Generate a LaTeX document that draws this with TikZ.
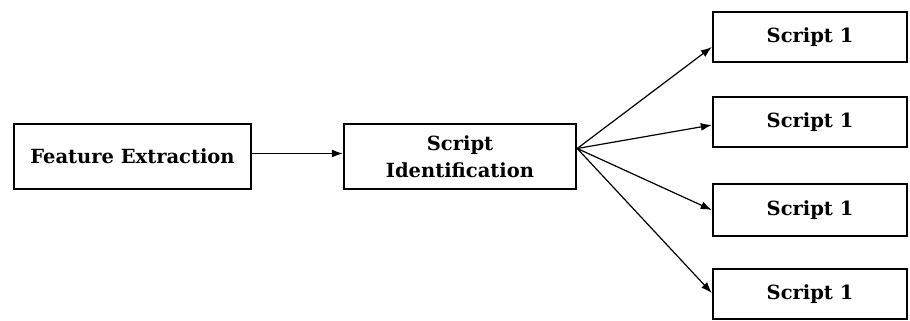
\documentclass[tikz,border=0pt]{standalone}
\usepackage{fontspec}
\setmainfont{DejaVu Serif}
\usetikzlibrary{arrows.meta}
\begin{document}
\begin{tikzpicture}[x=1pt,y=-1pt,
  box/.style={draw, line width=2.4pt, inner sep=0pt, align=center,
    font=\bfseries\fontsize{19.5}{27}\selectfont},
  conn/.style={-{Latex[length=11pt,width=8pt]}, line width=1.2pt}]
\useasboundingbox (0,0) rectangle (910,321);
\node[box, minimum width=237pt, minimum height=65pt] (fe) at (132.5,156.5) {Feature Extraction};
\node[box, minimum width=232pt, minimum height=65pt] (si) at (460,156.5) {Script\\Identification};
\node[box, minimum width=194pt, minimum height=50pt] (s1) at (810,37) {Script 1};
\node[box, minimum width=194pt, minimum height=50pt] (s2) at (810,122) {Script 1};
\node[box, minimum width=194pt, minimum height=52pt] (s3) at (810,210) {Script 1};
\node[box, minimum width=194pt, minimum height=50pt] (s4) at (810,294) {Script 1};
\coordinate (fan) at ([yshift=8pt]si.east);
\draw[conn] ([yshift=3pt]fe.east) -- ([yshift=3pt]si.west);
\draw[conn] (fan) -- ([yshift=-10pt]s1.west);
\draw[conn] (fan) -- ([yshift=-3pt]s2.west);
\draw[conn] (fan) -- (s3.west);
\draw[conn] (fan) -- ([yshift=1pt]s4.west);
\end{tikzpicture}
\end{document}
